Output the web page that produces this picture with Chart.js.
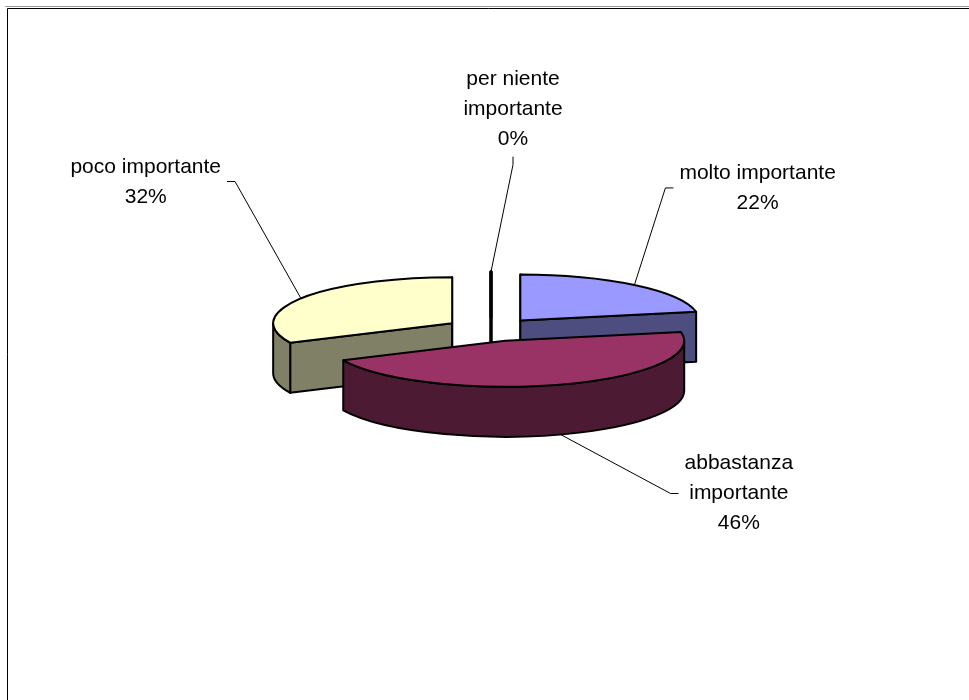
<!DOCTYPE html>
<html>
<head>
<meta charset="utf-8">
<script src="https://cdn.jsdelivr.net/npm/chart.js@4.4.1/dist/chart.umd.min.js"></script>
<style>
html,body{margin:0;padding:0;background:#fff;}
#wrap{width:969px;height:700px;position:relative;}
</style>
</head>
<body>
<div id="wrap"><canvas id="c"></canvas></div>
<script>
// ---- data ----
const categories = ['molto importante', 'abbastanza importante', 'poco importante', 'per niente importante'];
const values = [22, 46, 32, 0];
const topColors = ['#9999FF', '#993366', '#FFFFCC', '#CCFFFF'];
const sideColors = ['#4D4D80', '#4D1A33', '#808066', '#668080'];

// ---- look ----
const TILT = 0.257;     // vertical squash of the pie disc
const DEPTH = 50;       // thickness of the disc in px
const EXPLODE = 46;     // explosion distance
const FONT = '21px "Liberation Sans", Arial, sans-serif';
const LINE_H = 30;
const TICK = 8;
const GAP = 6;
// leader elbow offsets relative to the slice anchor point, and which side the text sits on
const labelOffsets = [[31, -97], [110, 59], [-66, -117], [22, -107]];
const labelSides = ['right', 'right', 'left', 'top'];

const total = values.reduce((a, b) => a + b, 0);
const EPS = 1e-9;

function ellPt(it, a, dy) {
  return [it.cx + it.r * Math.cos(a), it.cy + it.r * TILT * Math.sin(a) + (dy || 0)];
}

const pie3d = {
  id: 'pie3d',
  beforeDraw(chart) {
    const ctx = chart.ctx;
    ctx.save();
    ctx.lineWidth = 1;
    ctx.strokeStyle = '#9a9a9a';
    ctx.beginPath(); ctx.moveTo(5, 6.5); ctx.lineTo(969, 6.5); ctx.stroke();
    ctx.strokeStyle = '#000';
    ctx.beginPath(); ctx.moveTo(7.5, 700); ctx.lineTo(7.5, 8.5); ctx.lineTo(969, 8.5); ctx.stroke();
    ctx.restore();
  },
  beforeDatasetsDraw(chart) {
    const ctx = chart.ctx;
    const meta = chart.getDatasetMeta(0);
    const items = meta.data.map((el, i) => {
      const a1 = el.startAngle, a2 = el.endAngle;
      const h = (a1 + a2) / 2;
      return {
        el, i, a1, a2, h, r: el.outerRadius, x0: el.x, y0: el.y,
        cx: el.x + Math.cos(h) * EXPLODE,
        cy: el.y + Math.sin(h) * EXPLODE * TILT
      };
    });
    const order = items.slice().sort((a, b) => a.cy - b.cy);

    ctx.save();
    ctx.lineJoin = 'round';
    ctx.lineCap = 'round';
    ctx.strokeStyle = '#000';

    order.forEach(it => {
      const ry = it.r * TILT;
      const empty = (it.a2 - it.a1) <= EPS;
      ctx.lineWidth = empty ? 3 : 2;
      ctx.fillStyle = sideColors[it.i];
      // radial side faces
      const faces = [];
      if (Math.cos(it.a1) <= EPS) faces.push(it.a1);
      if (Math.cos(it.a2) >= -EPS) faces.push(it.a2);
      faces.forEach(a => {
        const p = ellPt(it, a, 0), pd = ellPt(it, a, DEPTH);
        ctx.beginPath();
        ctx.moveTo(it.cx, it.cy);
        ctx.lineTo(p[0], p[1]);
        ctx.lineTo(pd[0], pd[1]);
        ctx.lineTo(it.cx, it.cy + DEPTH);
        ctx.closePath();
        ctx.fill(); ctx.stroke();
      });
      // outer rim (front half only)
      const lo = Math.max(it.a1, 0), hi = Math.min(it.a2, Math.PI);
      if (hi - lo > EPS) {
        ctx.beginPath();
        ctx.ellipse(it.cx, it.cy, it.r, ry, 0, lo, hi, false);
        const pd = ellPt(it, hi, DEPTH);
        ctx.lineTo(pd[0], pd[1]);
        ctx.ellipse(it.cx, it.cy + DEPTH, it.r, ry, 0, hi, lo, true);
        ctx.closePath();
        ctx.fill(); ctx.stroke();
      }
      // top face, drawn by the Chart.js arc element in a squashed frame
      ctx.save();
      ctx.translate(it.cx, it.cy);
      ctx.scale(1, TILT);
      ctx.translate(-it.x0, -it.y0);
      it.el.draw(ctx);
      ctx.restore();
      // top outline
      const p1 = ellPt(it, it.a1, 0);
      ctx.beginPath();
      ctx.moveTo(it.cx, it.cy);
      ctx.lineTo(p1[0], p1[1]);
      if (!empty) ctx.ellipse(it.cx, it.cy, it.r, ry, 0, it.a1, it.a2, false);
      ctx.closePath();
      ctx.stroke();
    });
    ctx.restore();

    // labels with leader lines
    ctx.save();
    ctx.font = FONT;
    ctx.fillStyle = '#000';
    ctx.strokeStyle = '#000';
    ctx.lineWidth = 1;
    items.forEach(it => {
      const front = Math.sin(it.h) > 0;
      const anchor = ellPt(it, it.h, front ? DEPTH : 0);
      const off = labelOffsets[it.i];
      const side = labelSides[it.i];
      const E = [anchor[0] + off[0], anchor[1] + off[1]];
      let T;
      if (side === 'right') T = [E[0] + TICK, E[1]];
      else if (side === 'left') T = [E[0] - TICK, E[1]];
      else T = [E[0], E[1] - TICK];
      ctx.beginPath();
      ctx.moveTo(anchor[0], anchor[1]);
      ctx.lineTo(E[0], E[1]);
      ctx.lineTo(T[0], T[1]);
      ctx.stroke();

      const name = categories[it.i];
      let lines;
      if (ctx.measureText(name).width > 170) {
        const k = name.lastIndexOf(' ');
        lines = [name.slice(0, k), name.slice(k + 1)];
      } else lines = [name];
      lines.push(Math.round(values[it.i] / total * 100) + '%');
      const w = Math.max(...lines.map(s => ctx.measureText(s).width));
      const n = lines.length;
      let cxT, baselines;
      if (side === 'top') {
        cxT = E[0];
        const last = T[1] - 12;
        baselines = lines.map((s, j) => last - (n - 1 - j) * LINE_H);
      } else {
        cxT = side === 'right' ? T[0] + GAP + w / 2 : T[0] - GAP - w / 2;
        baselines = lines.map((s, j) => E[1] + (j - (n - 1) / 2) * LINE_H + 6);
      }
      ctx.textAlign = 'center';
      ctx.textBaseline = 'alphabetic';
      lines.forEach((s, j) => ctx.fillText(s, cxT, baselines[j]));
    });
    ctx.restore();
    return false;
  }
};

new Chart(document.getElementById('c'), {
  type: 'pie',
  data: {
    labels: categories,
    datasets: [{ data: values, backgroundColor: topColors, borderWidth: 0 }]
  },
  options: {
    responsive: true,
    maintainAspectRatio: false,
    animation: false,
    events: [],
    radius: 179,
    layout: { padding: { left: 13, right: 0, top: 0, bottom: 41 } },
    plugins: { legend: { display: false }, tooltip: { enabled: false } }
  },
  plugins: [pie3d]
});
</script>
</body>
</html>
